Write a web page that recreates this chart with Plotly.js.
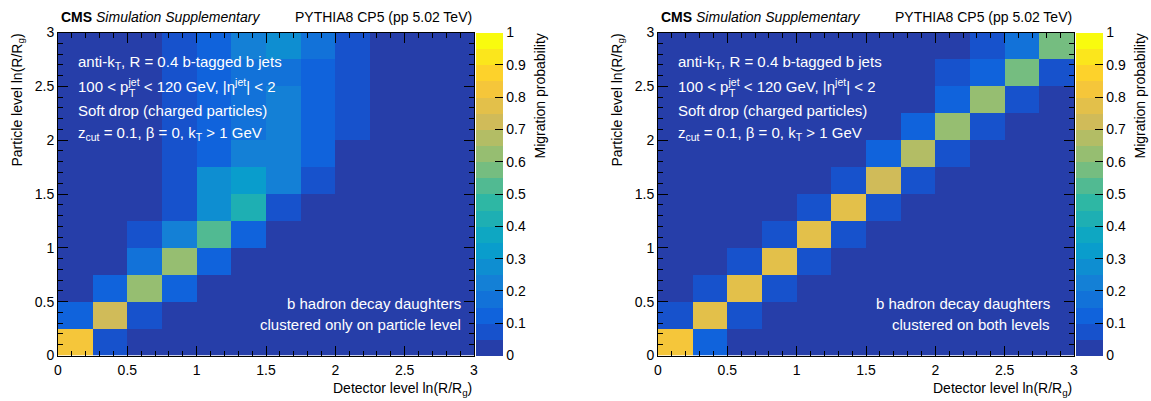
<!DOCTYPE html>
<html>
<head>
<meta charset="utf-8">
<script src="https://cdn.plot.ly/plotly-3.0.1.min.js"></script>
<style>html,body{margin:0;padding:0;background:#fff;}#chart{width:1151px;height:401px;}</style>
</head>
<body>
<div id="chart"></div>
<script>
// ---- data ----
const binEdges = [0, 0.25, 0.5, 0.75, 1, 1.25, 1.5, 1.75, 2, 2.25, 2.5, 2.75, 3];
const axisTicks = [0, 0.5, 1, 1.5, 2, 2.5, 3];
const colorTicks = [0, 0.1, 0.2, 0.3, 0.4, 0.5, 0.6, 0.7, 0.8, 0.9, 1];

// rows: particle level bins (bottom to top); columns: detector level bins (left to right)
const zOnlyParticle = [
  [0.82, 0.08, 0.02, 0.01, 0.00, 0.00, 0.00, 0.00, 0.00, 0.00, 0.00, 0.00],
  [0.13, 0.72, 0.08, 0.02, 0.01, 0.00, 0.00, 0.00, 0.00, 0.00, 0.00, 0.00],
  [0.03, 0.13, 0.62, 0.12, 0.02, 0.01, 0.00, 0.00, 0.00, 0.00, 0.00, 0.00],
  [0.01, 0.03, 0.17, 0.62, 0.12, 0.02, 0.01, 0.00, 0.00, 0.00, 0.00, 0.00],
  [0.01, 0.02, 0.08, 0.22, 0.52, 0.10, 0.02, 0.01, 0.00, 0.00, 0.00, 0.00],
  [0.00, 0.01, 0.03, 0.08, 0.27, 0.42, 0.08, 0.02, 0.01, 0.00, 0.00, 0.00],
  [0.00, 0.01, 0.02, 0.07, 0.28, 0.33, 0.23, 0.08, 0.02, 0.00, 0.00, 0.00],
  [0.00, 0.01, 0.02, 0.07, 0.13, 0.22, 0.24, 0.10, 0.03, 0.00, 0.00, 0.00],
  [0.00, 0.01, 0.02, 0.07, 0.12, 0.18, 0.22, 0.12, 0.07, 0.02, 0.00, 0.00],
  [0.00, 0.01, 0.02, 0.07, 0.12, 0.18, 0.22, 0.12, 0.07, 0.02, 0.00, 0.00],
  [0.00, 0.01, 0.02, 0.07, 0.12, 0.17, 0.19, 0.11, 0.07, 0.02, 0.00, 0.00],
  [0.00, 0.01, 0.02, 0.07, 0.12, 0.20, 0.27, 0.18, 0.07, 0.02, 0.00, 0.00]
];

const zBothLevels = [
  [0.82, 0.13, 0.02, 0.00, 0.00, 0.00, 0.00, 0.00, 0.00, 0.00, 0.00, 0.00],
  [0.08, 0.77, 0.08, 0.01, 0.00, 0.00, 0.00, 0.00, 0.00, 0.00, 0.00, 0.00],
  [0.01, 0.08, 0.77, 0.08, 0.01, 0.00, 0.00, 0.00, 0.00, 0.00, 0.00, 0.00],
  [0.00, 0.01, 0.08, 0.78, 0.08, 0.01, 0.00, 0.00, 0.00, 0.00, 0.00, 0.00],
  [0.00, 0.00, 0.01, 0.08, 0.78, 0.08, 0.01, 0.00, 0.00, 0.00, 0.00, 0.00],
  [0.00, 0.00, 0.00, 0.01, 0.08, 0.78, 0.08, 0.01, 0.00, 0.00, 0.00, 0.00],
  [0.00, 0.00, 0.00, 0.00, 0.01, 0.08, 0.72, 0.08, 0.01, 0.00, 0.00, 0.00],
  [0.00, 0.00, 0.00, 0.00, 0.00, 0.02, 0.10, 0.66, 0.08, 0.01, 0.00, 0.00],
  [0.00, 0.00, 0.00, 0.00, 0.00, 0.01, 0.02, 0.10, 0.61, 0.08, 0.01, 0.00],
  [0.00, 0.00, 0.00, 0.00, 0.00, 0.00, 0.01, 0.02, 0.11, 0.62, 0.08, 0.01],
  [0.00, 0.00, 0.00, 0.00, 0.00, 0.00, 0.00, 0.01, 0.08, 0.12, 0.57, 0.08],
  [0.00, 0.00, 0.00, 0.00, 0.00, 0.00, 0.00, 0.00, 0.02, 0.08, 0.17, 0.57]
];

// ---- ROOT kBird palette, 20 contour levels ----
const birdR = [0.2082, 0.0592, 0.0780, 0.0232, 0.1802, 0.5301, 0.8186, 0.9956, 0.9764];
const birdG = [0.1664, 0.3599, 0.5041, 0.6419, 0.7178, 0.7492, 0.7328, 0.7862, 0.9832];
const birdB = [0.5293, 0.8684, 0.8385, 0.7914, 0.6425, 0.4662, 0.3499, 0.1968, 0.0539];
function bird(t) {
  t = Math.max(0, Math.min(1, t));
  const s = t * 8; let i = Math.floor(s); if (i >= 8) i = 7; const f = s - i;
  const c = a => Math.round(255 * (a[i] + (a[i + 1] - a[i]) * f));
  return 'rgb(' + c(birdR) + ',' + c(birdG) + ',' + c(birdB) + ')';
}
const nLev = 20;
const cscale = [];
for (let i = 0; i < nLev; i++) {
  const col = bird((i + 0.99) / nLev);
  cscale.push([i / nLev, col]);
  cscale.push([(i + 1) / nLev, col]);
}

const FONT = 'Liberation Sans, Arial, Helvetica, sans-serif';
const W = 1151, H = 401;
const yBot = 1 - 355.5 / H, yTop = 1 - 32.5 / H;
const panels = [
  {x0: 58, x1: 474, cbx: 476, ytitle: 17, cbtitle: 539, z: zOnlyParticle,
   bl1: 'b hadron decay daughters', bl2: 'clustered only on particle level', blx: 463},
  {x0: 658, x1: 1074, cbx: 1076, ytitle: 617, cbtitle: 1139, z: zBothLevels,
   bl1: 'b hadron decay daughters', bl2: 'clustered on both levels', blx: 1052}
];

const traces = [];
const layout = {
  width: W, height: H,
  margin: {l: 0, r: 0, t: 0, b: 0},
  paper_bgcolor: '#fff', plot_bgcolor: '#fff',
  font: {family: FONT, size: 14, color: '#000'},
  showlegend: false,
  annotations: []
};

panels.forEach((p, k) => {
  const sfx = k === 0 ? '' : '2';
  const ca = 'coloraxis' + sfx;
  traces.push({
    type: 'heatmap', x: binEdges, y: binEdges, z: p.z,
    xaxis: 'x' + sfx, yaxis: 'y' + sfx, coloraxis: ca,
    hoverinfo: 'skip'
  });
  const axCommon = {
    range: [0, 3], tickvals: axisTicks, ticks: 'inside', ticklen: 10, tickwidth: 1,
    tickcolor: '#000', showline: true, linecolor: '#000', linewidth: 1, mirror: 'ticks',
    showgrid: false, zeroline: false, tickfont: {size: 14, family: FONT},
    minor: {dtick: 0.1, ticks: 'inside', ticklen: 5, tickcolor: '#000', showgrid: false},
    fixedrange: true
  };
  layout['xaxis' + sfx] = Object.assign({}, axCommon, {
    domain: [p.x0 / W, p.x1 / W], anchor: 'y' + sfx, ticklabelstandoff: 2
  });
  layout['yaxis' + sfx] = Object.assign({}, axCommon, {
    domain: [yBot, yTop], anchor: 'x' + sfx
  });
  layout[ca] = {
    cmin: 0, cmax: 1, colorscale: cscale, showscale: true,
    colorbar: {
      x: p.cbx / W, xanchor: 'left', xref: 'paper',
      y: yBot, yanchor: 'bottom', len: yTop - yBot, lenmode: 'fraction',
      thickness: 27, thicknessmode: 'pixels', xpad: 0, ypad: 0,
      outlinewidth: 0, tickvals: colorTicks, ticktext: colorTicks.map(String),
      ticks: 'inside', ticklen: 8, tickcolor: '#000', tickwidth: 1,
      tickfont: {size: 14, family: FONT}
    }
  };
  const A = layout.annotations;
  const px = v => v / W, py = v => 1 - v / H;
  // header
  A.push({xref: 'paper', yref: 'paper', x: px(p.x0 + 1), y: py(17), xanchor: 'left', yanchor: 'middle',
    showarrow: false, text: '<b>CMS</b> <i>Simulation Supplementary</i>', font: {size: 14, family: FONT}});
  A.push({xref: 'paper', yref: 'paper', x: px(p.x1), y: py(17), xanchor: 'right', yanchor: 'middle',
    showarrow: false, text: 'PYTHIA8 CP5 (pp 5.02 TeV)', font: {size: 14, family: FONT}});
  // inner text
  const lines = [
    'anti-k<sub>T</sub>, R = 0.4 b-tagged b jets',
    '100 &lt; p<sup>jet</sup> &lt; 120 GeV, |η<sup>jet</sup>| &lt; 2',
    'Soft drop (charged particles)',
    'z<sub>cut</sub> = 0.1, β = 0, k<sub>T</sub> &gt; 1 GeV'
  ];
  const ly = [62, 86, 110, 133];
  const tx = p.x0 + 18;
  lines.forEach((t, i) => A.push({xref: 'paper', yref: 'paper', x: px(tx), y: py(ly[i]),
    xanchor: 'left', yanchor: 'middle', showarrow: false, text: t, font: {size: 15, family: FONT, color: '#fff'}}));
  // stacked subscript T under "jet" of p_T
  A.push({xref: 'paper', yref: 'paper', x: px(tx + 51), y: py(93), xanchor: 'left', yanchor: 'middle',
    showarrow: false, text: 'T', font: {size: 10.5, family: FONT, color: '#fff'}});
  A.push({xref: 'paper', yref: 'paper', x: px(p.blx), y: py(303), xanchor: 'right', yanchor: 'middle',
    showarrow: false, text: p.bl1, font: {size: 15, family: FONT, color: '#fff'}});
  A.push({xref: 'paper', yref: 'paper', x: px(p.blx), y: py(324), xanchor: 'right', yanchor: 'middle',
    showarrow: false, text: p.bl2, font: {size: 15, family: FONT, color: '#fff'}});
  // axis titles
  A.push({xref: 'paper', yref: 'paper', x: px(p.x1), y: py(389), xanchor: 'right', yanchor: 'middle',
    showarrow: false, text: 'Detector level ln(R/R<sub>g</sub>)', font: {size: 14, family: FONT}});
  A.push({xref: 'paper', yref: 'paper', x: px(p.ytitle), y: py(32), xanchor: 'center', yanchor: 'top',
    textangle: -90, showarrow: false, text: 'Particle level ln(R/R<sub>g</sub>)', font: {size: 14, family: FONT}});
  A.push({xref: 'paper', yref: 'paper', x: px(p.cbtitle), y: py(32), xanchor: 'center', yanchor: 'top',
    textangle: -90, showarrow: false, text: 'Migration probability', font: {size: 14, family: FONT}});
});

Plotly.newPlot('chart', traces, layout, {staticPlot: true, displayModeBar: false});
</script>
</body>
</html>
